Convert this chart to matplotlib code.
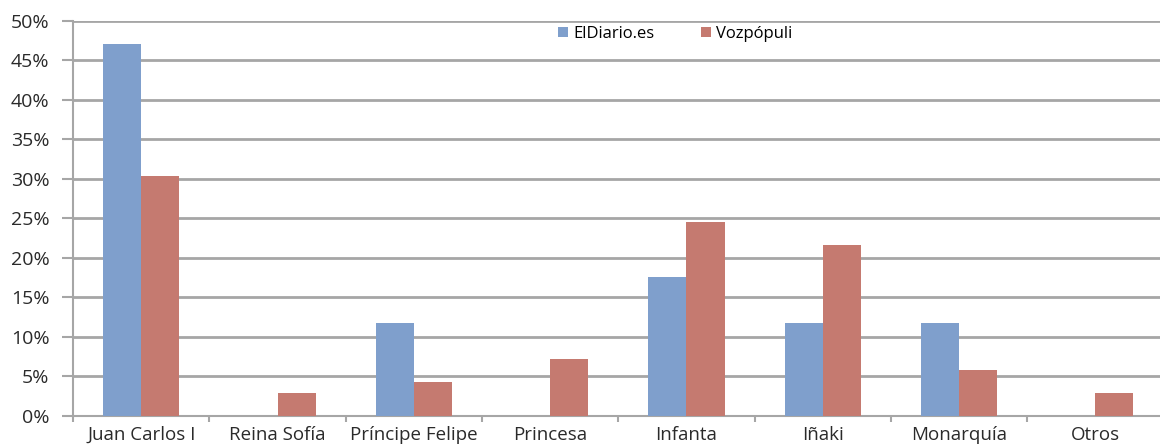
import numpy as np
import matplotlib.pyplot as plt
from matplotlib.ticker import MultipleLocator, FuncFormatter

categorias = ["Juan Carlos I", "Reina Sofía", "Príncipe Felipe", "Princesa",
              "Infanta", "Iñaki", "Monarquía", "Otros"]
eldiario = [47.1, 0, 11.8, 0, 17.6, 11.8, 11.8, 0]
vozpopuli = [30.4, 2.9, 4.3, 7.2, 24.6, 21.7, 5.8, 2.9]

AZUL = "#7F9FCC"
ROJO = "#C57A70"
GRIS = "#A6A6A6"


def main():
    plt.rcParams["font.family"] = ["Open Sans", "DejaVu Sans"]
    fig = plt.figure(figsize=(11.6, 4.48), dpi=100)
    ax = fig.add_axes([0.063, 0.0714, 0.94, 0.882])

    x = np.arange(len(categorias))
    w = 0.28
    ax.bar(x - w / 2, eldiario, w, color=AZUL, label="ElDiario.es", zorder=3)
    ax.bar(x + w / 2, vozpopuli, w, color=ROJO, label="Vozpópuli", zorder=3)

    ax.set_xlim(-0.5, len(categorias) - 0.5)
    ax.set_ylim(0, 50)
    ax.yaxis.set_major_locator(MultipleLocator(5))
    ax.yaxis.set_major_formatter(FuncFormatter(lambda v, p: f"{v:.0f}%"))
    ax.grid(axis="y", color=GRIS, linewidth=2, zorder=0)

    # ticks del eje x entre categorías, etiquetas centradas
    ax.set_xticks(np.arange(-0.5, len(categorias), 1))
    ax.set_xticklabels([])
    ax.set_xticks(x, minor=True)
    ax.set_xticklabels(categorias, minor=True, fontsize=13.5, color="#2a2a2a")
    ax.tick_params(axis="x", which="minor", length=0, pad=7)
    ax.tick_params(axis="x", which="major", length=4, color=GRIS, width=1.5)
    ax.tick_params(axis="y", length=8, color=GRIS, width=1.5,
                   labelsize=14, labelcolor="#2a2a2a", pad=9)

    for s in ["top", "right"]:
        ax.spines[s].set_visible(False)
    ax.spines["left"].set_color(GRIS)
    ax.spines["left"].set_linewidth(1.5)
    ax.spines["bottom"].set_color(GRIS)
    ax.spines["bottom"].set_linewidth(1.5)

    ax.legend(loc="upper center", bbox_to_anchor=(0.552, 1.025), ncol=2,
              frameon=False, fontsize=12, handlelength=0.6, handleheight=0.6,
              handletextpad=0.3, columnspacing=2.8)

    fig.savefig("out.png", dpi=100)
    plt.close(fig)


if __name__ == "__main__":
    main()
